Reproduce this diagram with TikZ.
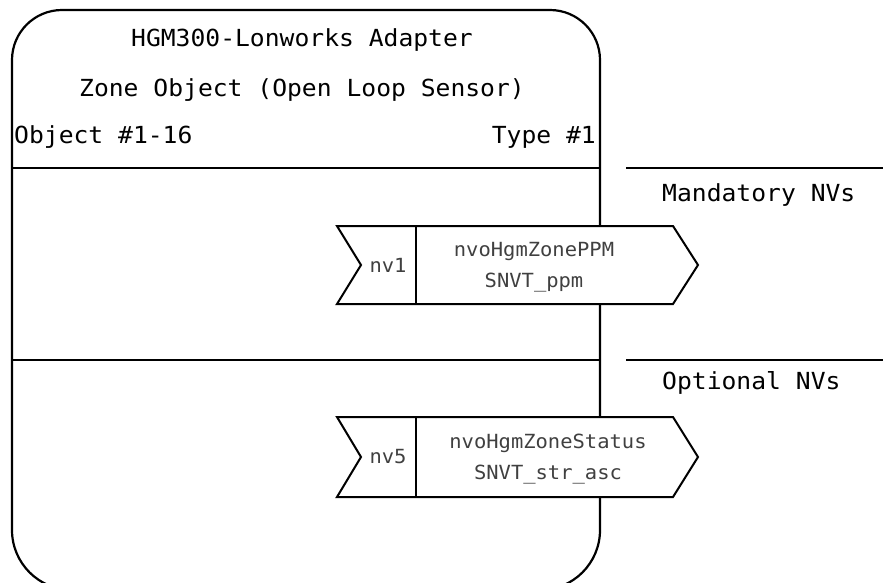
\documentclass[tikz,border=0pt]{standalone}
\usepackage{fontspec}
\usetikzlibrary{positioning}
\newfontfamily\cadfont[FakeStretch=1.05]{DejaVu Sans Mono}
\tikzstyle{title} = [font={\cadfont\fontsize{23.5}{26}\selectfont}, inner sep=0pt]
\tikzstyle{nvtag} = [font={\cadfont\fontsize{19.5}{22}\selectfont}, text=black!75, inner sep=0pt]
\tikzstyle{nvname} = [font={\cadfont\fontsize{19.5}{31}\selectfont}, align=center, text=black!75, inner sep=0pt]
\tikzstyle{rule} = [line width=2.2pt]
\tikzstyle{nvbox} = [line width=2pt, fill=white, line join=miter]

\begin{document}
\begin{tikzpicture}[x=1pt,y=-1pt]
\useasboundingbox (0,0) rectangle (883,582);
\clip (0,0) rectangle (883,582);
% adapter outline
\draw [rule] (12,300) [rounded corners=50pt] -- (12,10) -- (600,10) -- (600,300)
  [rounded corners=60pt] -- (600,590) -- (12,590) -- cycle;
\node (adapter) [title] at (302,40) {HGM300-Lonworks Adapter};
\node (zone) [title] at (302,90) {Zone Object (Open Loop Sensor)};
\node (objno) [title, anchor=west] at (14,137) {Object \#1-16};
\node (objtype) [title, anchor=east] at (596,137) {Type \#1};
% section rules
\draw [rule] (12,168) -- (600,168);
\draw [rule] (12,360) -- (600,360);
\draw [rule] (626,168) -- (883,168);
\draw [rule] (626,360) -- (883,360);
\node (mand) [title, anchor=west] at (662,195) {Mandatory NVs};
\node (opt) [title, anchor=west] at (662,383) {Optional NVs};
% nv1
\draw [nvbox] (337,226) -- (673,226) -- (698,265) -- (673,304) -- (337,304) -- (361,265) -- cycle;
\draw [nvbox] (416,226) -- (416,304);
\node (nv1) [nvtag] at (388,265) {nv1};
\node (ppm) [nvname] at (534,267) {nvoHgmZonePPM\\SNVT\_ppm};
% nv5
\draw [nvbox] (337,417) -- (673,417) -- (698,457) -- (673,497) -- (337,497) -- (361,457) -- cycle;
\draw [nvbox] (416,417) -- (416,497);
\node (nv5) [nvtag] at (388,457) {nv5};
\node (status) [nvname] at (548,459) {nvoHgmZoneStatus\\SNVT\_str\_asc};
\end{tikzpicture}
\end{document}
